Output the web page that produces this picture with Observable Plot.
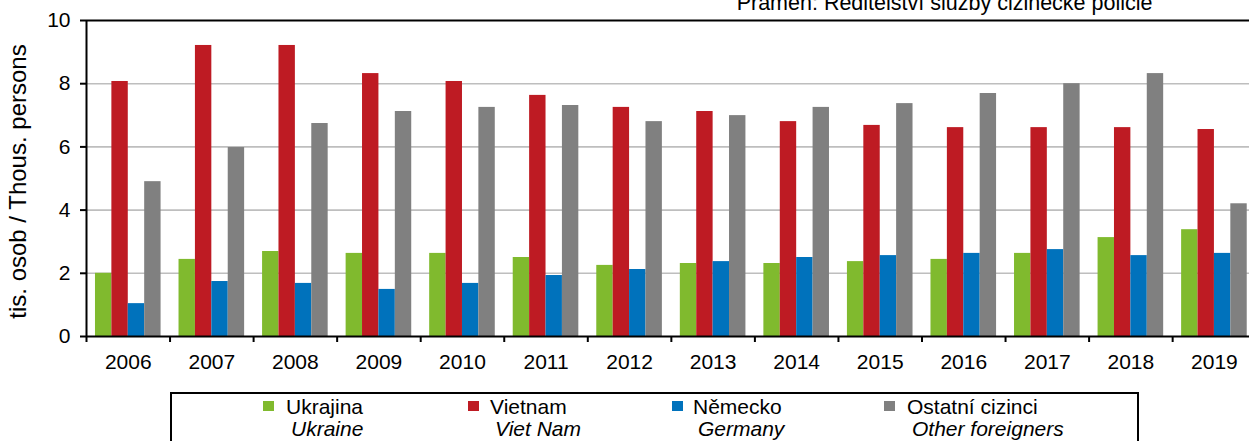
<!DOCTYPE html>
<html>
<head>
<meta charset="utf-8">
<script src="https://cdn.jsdelivr.net/npm/d3@7"></script>
<script src="https://cdn.jsdelivr.net/npm/@observablehq/plot@0.6"></script>
<style>
  html, body { margin: 0; padding: 0; background: #fff; overflow: hidden; }
  body { width: 1249px; height: 441px; font-family: "Liberation Sans", Arial, sans-serif; }
  #chart svg { display: block; overflow: visible; }
  #legend { position: relative; height: 51px; }
  #legend .box { position: absolute; left: 170px; top: 2px; width: 969px; height: 60px; border: 2px solid #000; box-sizing: border-box; }
  #legend .item { position: absolute; top: 6px; font-size: 21px; line-height: 22px; color: #000; white-space: pre; }
  #legend .sw { position: absolute; width: 11px; height: 10px; top: 11px; }
  #legend .en { font-style: italic; padding-left: 5px; }
</style>
</head>
<body>
<div id="chart"></div>
<div id="legend"></div>
<script>
const years = ["2006","2007","2008","2009","2010","2011","2012","2013","2014","2015","2016","2017","2018","2019"];
const seriesCz = ["Ukrajina", "Vietnam", "Německo", "Ostatní cizinci"];
const seriesEn = ["Ukraine", "Viet Nam", "Germany", "Other foreigners"];
const colors = ["#80BA2E", "#BE1B23", "#0072BC", "#808080"];
const ukrajina = [2.0, 2.44, 2.69, 2.63, 2.63, 2.50, 2.25, 2.31, 2.31, 2.37, 2.44, 2.63, 3.13, 3.38];
const vietnam  = [8.07, 9.21, 9.21, 8.32, 8.07, 7.63, 7.25, 7.12, 6.80, 6.68, 6.61, 6.61, 6.61, 6.55];
const nemecko  = [1.04, 1.74, 1.68, 1.49, 1.68, 1.93, 2.12, 2.37, 2.50, 2.56, 2.63, 2.75, 2.56, 2.63];
const ostatni  = [4.90, 5.98, 6.74, 7.12, 7.25, 7.31, 6.80, 6.99, 7.25, 7.37, 7.69, 8.00, 8.32, 4.20];
const yTicks = [0, 2, 4, 6, 8, 10];
const gridTicks = [2, 4, 6, 8];
const yLabel = "tis. osob / Thous. persons";
const source = "Pramen: Ředitelství služby cizinecké policie";

const valuesBySeries = [ukrajina, vietnam, nemecko, ostatni];
const data = valuesBySeries.map((vals, i) => years.map((year, j) => ({year, series: seriesCz[i], value: vals[j]})));

const left = 86, step = 83.55;
const xRange = [left, left + step * years.length];
const barW = 16.4;
const pad = (step - barW * 4) / 2;
const font = "21px";

const barMarks = data.map((rows, i) => Plot.barY(rows, {
  x: "year", y: "value", fill: colors[i],
  insetLeft: pad + i * barW,
  insetRight: step - pad - (i + 1) * barW
}));

const chart = Plot.plot({
  width: 1249,
  height: 390,
  marginLeft: left,
  marginRight: 0,
  marginTop: 20,
  marginBottom: 54,
  style: {fontFamily: "'Liberation Sans', Arial, sans-serif", fontSize: font, color: "#000", background: "#fff"},
  x: {type: "band", domain: years, range: xRange, padding: 0, round: false},
  y: {domain: [0, 10], range: [336, 20]},
  marks: [
    Plot.ruleY(gridTicks, {stroke: "#BEBEBE", strokeWidth: 1.6}),
    ...barMarks,
    Plot.ruleY([0], {stroke: "#000", strokeWidth: 2}),
    Plot.ruleY([10], {stroke: "#000", strokeWidth: 2}),
    Plot.ruleX([years[0]], {y1: 0, y2: 10, dx: -step / 2, stroke: "#000", strokeWidth: 2}),
    Plot.axisY({ticks: yTicks, tickSize: 6, tickPadding: 10, tickFormat: d => String(d), label: null, stroke: "#000", strokeWidth: 2, strokeOpacity: 1, fontSize: font}),
    Plot.axisX({tickSize: 0, tickPadding: 18, label: null, fontSize: font}),
    Plot.axisX({tickSize: 6, tickFormat: () => "", label: null, dx: -step / 2, stroke: "#000", strokeWidth: 2, strokeOpacity: 1}),
    Plot.text([yLabel], {frameAnchor: "left", textAnchor: "middle", rotate: -90, dx: -68, dy: 3, fontSize: "24px", letterSpacing: "1px", fill: "#000"}),
    Plot.text([source], {frameAnchor: "top-right", textAnchor: "end", lineAnchor: "bottom", dx: -97, dy: -11, fontSize: "21.5px", fill: "#000"})
  ]
});
document.getElementById("chart").appendChild(chart);

const legend = d3.select("#legend");
legend.append("div").attr("class", "box");
const swX = [263, 468, 672, 884];
const txX = [286, 490, 693, 907];
seriesCz.forEach((name, i) => {
  legend.append("div").attr("class", "sw").style("left", swX[i] + "px").style("background", colors[i]);
  const it = legend.append("div").attr("class", "item").style("left", txX[i] + "px");
  it.append("div").text(name);
  it.append("div").attr("class", "en").text(seriesEn[i]);
});
</script>
</body>
</html>
